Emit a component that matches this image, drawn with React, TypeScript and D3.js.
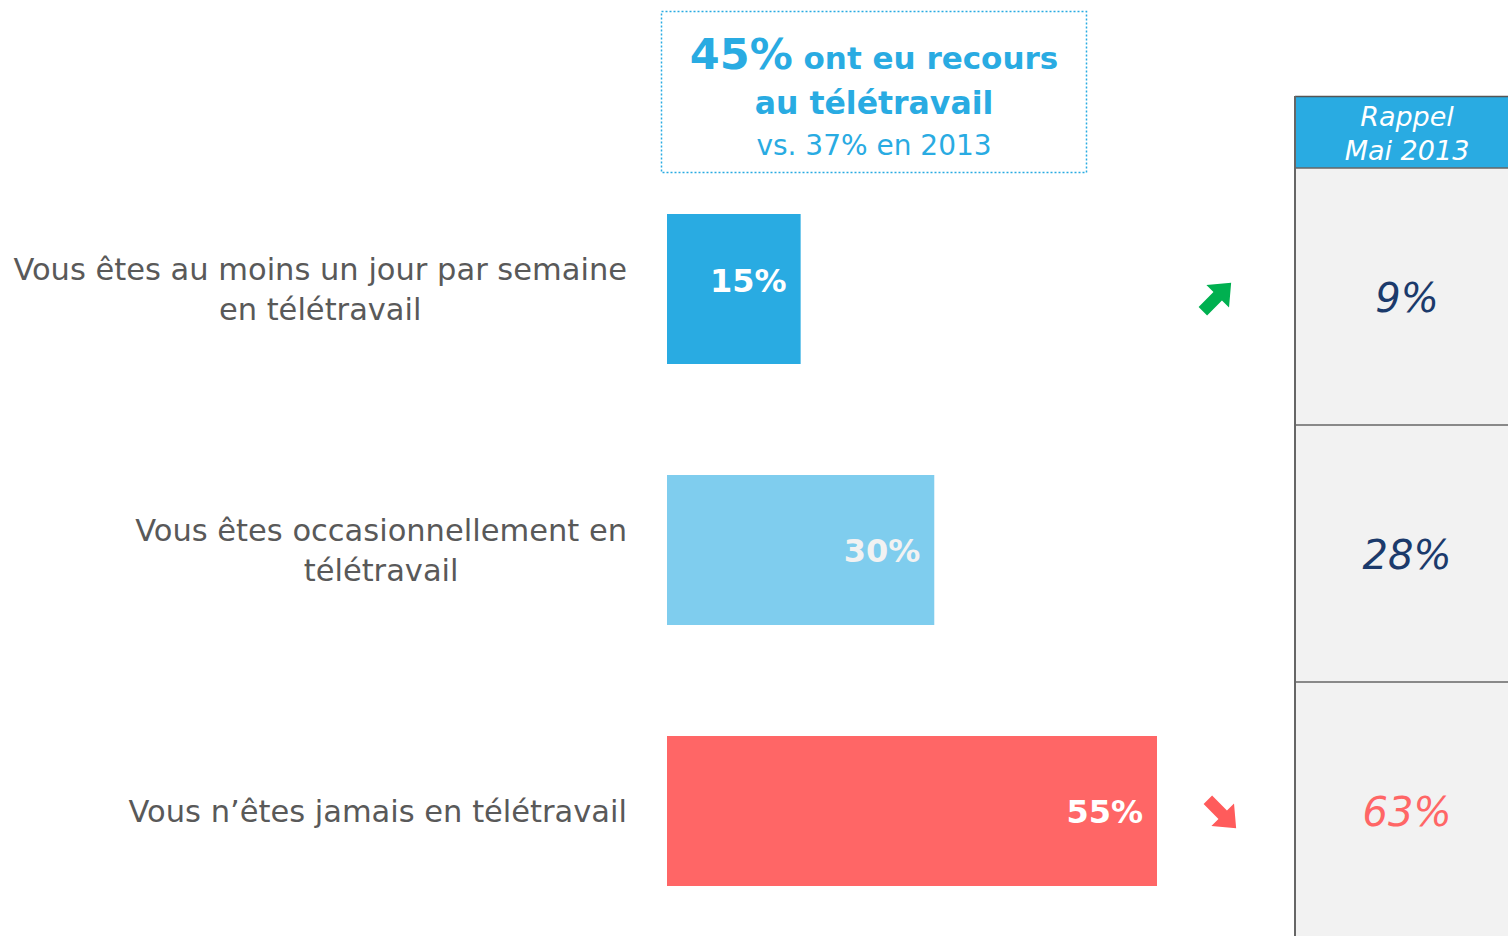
import React, { useEffect, useRef } from "react";
import * as d3 from "d3";

const categories = [
  ["Vous êtes au moins un jour par semaine", "en télétravail"],
  ["Vous êtes occasionnellement en", "télétravail"],
  ["Vous n’êtes jamais en télétravail"],
];
const values2015 = [15, 30, 55];
const values2013 = [9, 28, 63];
const barColors = ["#29abe2", "#7fcdee", "#ff6666"];
const recallColors = ["#1b3a6b", "#1b3a6b", "#ff6666"];
const trends = ["up", "none", "down"];

const FONT = "'DejaVu Sans', sans-serif";

export default function App() {
  const svgRef = useRef<SVGSVGElement>(null);

  useEffect(() => {
    const w = 1508;
    const h = 936;
    const svg = d3.select(svgRef.current);
    svg.selectAll("*").remove();
    svg.attr("width", w).attr("height", h).style("display", "block");

    const x = d3.scaleLinear().domain([0, 55]).range([667, 1157]);
    const y = d3
      .scaleBand<number>()
      .domain(d3.range(categories.length))
      .range([214, 886])
      .paddingInner(111 / 261)
      .paddingOuter(0);

    // right recall panel
    const panelX = 1295;
    svg.append("rect").attr("x", panelX).attr("y", 168).attr("width", w - panelX).attr("height", h - 168).attr("fill", "#f2f2f2");
    svg.append("rect").attr("x", panelX).attr("y", 96).attr("width", w - panelX).attr("height", 72).attr("fill", "#29abe2");
    svg.append("line").attr("x1", panelX).attr("x2", w).attr("y1", 96.5).attr("y2", 96.5).attr("stroke", "#555").attr("stroke-width", 1.5);
    svg.append("line").attr("x1", panelX).attr("x2", panelX).attr("y1", 96).attr("y2", h).attr("stroke", "#666").attr("stroke-width", 2);
    [168, 425, 682].forEach((yy) => {
      svg.append("line").attr("x1", panelX).attr("x2", w).attr("y1", yy).attr("y2", yy).attr("stroke", "#666").attr("stroke-width", 1.5);
    });
    const head = svg.append("text").attr("text-anchor", "middle").attr("fill", "#fff").attr("font-family", FONT).attr("font-style", "italic").attr("font-size", 27);
    head.append("tspan").attr("x", 1407).attr("y", 126).text("Rappel");
    head.append("tspan").attr("x", 1407).attr("y", 160).text("Mai 2013");

    const rowMid = (i: number) => 168 + 257 * i + 128;
    svg
      .selectAll(".recall")
      .data(values2013)
      .join("text")
      .attr("x", 1407)
      .attr("y", (_, i) => rowMid(i) + 16)
      .attr("text-anchor", "middle")
      .attr("font-family", FONT)
      .attr("font-style", "italic")
      .attr("font-size", 40)
      .attr("fill", (_, i) => recallColors[i])
      .text((d) => `${d}%`);

    // title box
    svg.append("rect").attr("x", 661.5).attr("y", 11.5).attr("width", 425).attr("height", 161).attr("fill", "none").attr("stroke", "#29abe2").attr("stroke-width", 1.5).attr("stroke-dasharray", "2 2");
    const t1 = svg.append("text").attr("x", 874).attr("y", 69).attr("text-anchor", "middle").attr("fill", "#29abe2").attr("font-family", FONT).attr("font-weight", "bold");
    t1.append("tspan").attr("font-size", 43).text("45%");
    t1.append("tspan").attr("font-size", 31).text(" ont eu recours");
    svg.append("text").attr("x", 874).attr("y", 114).attr("text-anchor", "middle").attr("fill", "#29abe2").attr("font-family", FONT).attr("font-weight", "bold").attr("font-size", 31.5).text("au télétravail");
    svg.append("text").attr("x", 874).attr("y", 155).attr("text-anchor", "middle").attr("fill", "#29abe2").attr("font-family", FONT).attr("font-size", 28).text("vs. 37% en 2013");

    // bars
    svg
      .selectAll(".bar")
      .data(values2015)
      .join("rect")
      .attr("x", x(0))
      .attr("y", (_, i) => y(i)!)
      .attr("width", (d) => x(d) - x(0))
      .attr("height", y.bandwidth())
      .attr("fill", (_, i) => barColors[i]);

    svg
      .selectAll(".val")
      .data(values2015)
      .join("text")
      .attr("x", (d) => x(d) - 14)
      .attr("y", (_, i) => y(i)! + y.bandwidth() / 2 + (i === 0 ? 3 : 12))
      .attr("text-anchor", "end")
      .attr("font-family", FONT)
      .attr("font-weight", "bold")
      .attr("font-size", 32)
      .attr("fill", (_, i) => (i === 1 ? "#f2f2f2" : "#fff"))
      .text((d) => `${d}%`);

    // category labels
    categories.forEach((lines, i) => {
      const cy = y(i)! + y.bandwidth() / 2;
      const t = svg.append("text").attr("text-anchor", "end").attr("font-family", FONT).attr("font-size", 30.5).attr("fill", "#595959");
      const startY = cy - ((lines.length - 1) * 40) / 2 + 11;
      lines.forEach((ln, j) => {
        t.append("tspan").attr("x", 627).attr("y", startY + j * 40).text(ln);
      });
      if (lines.length > 1) {
        // second line is centred under the first
        const first = (t.select("tspan").node() as SVGTSpanElement).getComputedTextLength();
        t.selectAll("tspan").attr("text-anchor", "middle").attr("x", 627 - first / 2);
      }
    });

    // trend arrows
    const arrow = "M-20,-6 L1,-6 L1,-16 L20,0 L1,16 L1,6 L-20,6 Z";
    trends.forEach((tr, i) => {
      if (tr === "none") return;
      const cy = y(i)! + y.bandwidth() / 2;
      const cx = tr === "up" ? 1217 : 1222;
      svg
        .append("path")
        .attr("d", arrow)
        .attr("transform", `translate(${cx},${tr === "up" ? cy + 8 : cy + 3}) rotate(${tr === "up" ? -45 : 45})`)
        .attr("fill", tr === "up" ? "#00b050" : "#ff5b5b");
    });
  }, []);

  return (
    <div style={{ position: "absolute", left: 0, top: 0 }}>
      <svg ref={svgRef}></svg>
    </div>
  );
}
